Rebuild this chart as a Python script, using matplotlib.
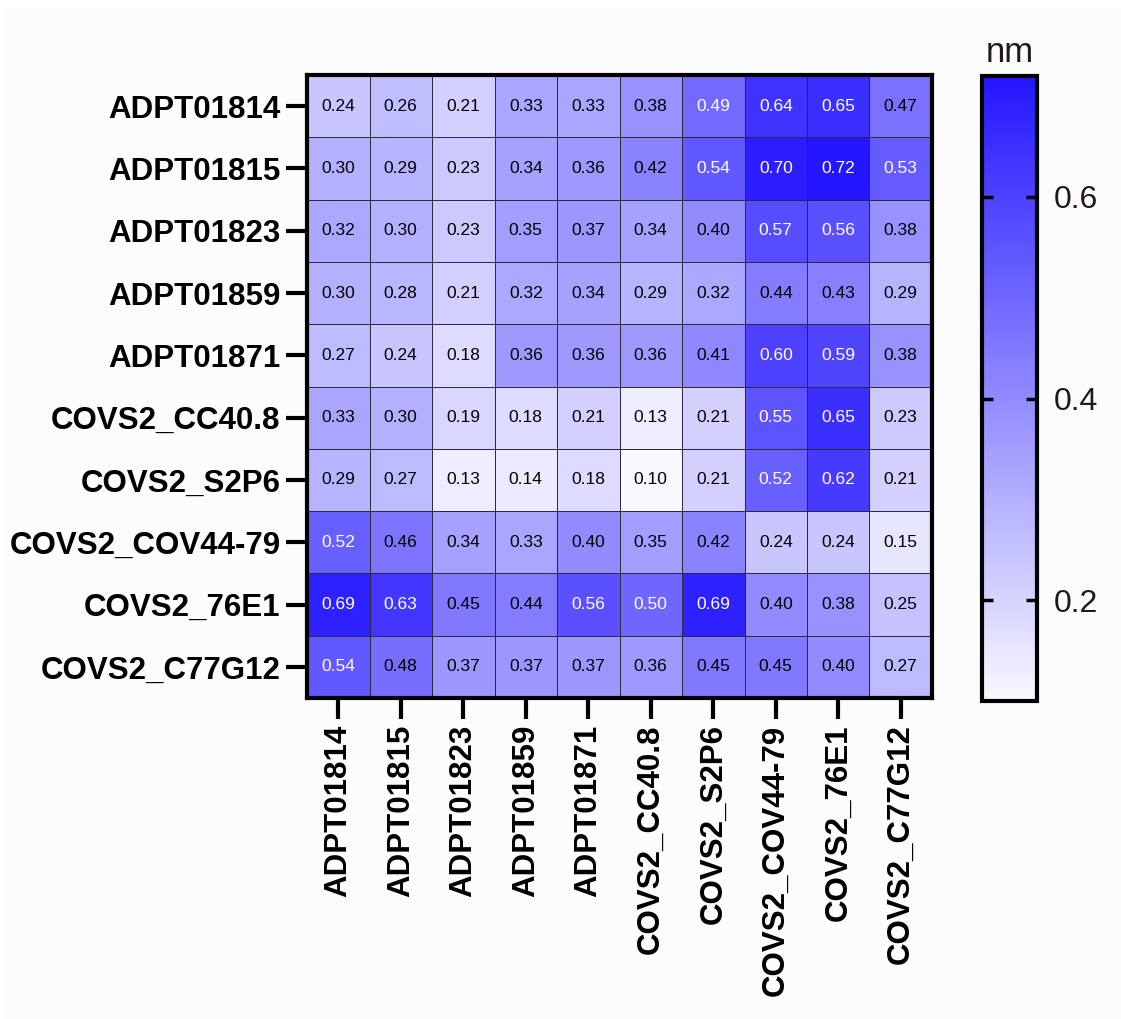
import numpy as np
import matplotlib
matplotlib.use("Agg")
import matplotlib.pyplot as plt
from matplotlib.colors import LinearSegmentedColormap
from matplotlib.patches import Rectangle

rows = ["ADPT01814", "ADPT01815", "ADPT01823", "ADPT01859", "ADPT01871",
        "COVS2_CC40.8", "COVS2_S2P6", "COVS2_COV44-79", "COVS2_76E1", "COVS2_C77G12"]
cols = rows[:]

values = np.array([
    [0.24, 0.26, 0.21, 0.33, 0.33, 0.38, 0.49, 0.64, 0.65, 0.47],
    [0.30, 0.29, 0.23, 0.34, 0.36, 0.42, 0.54, 0.70, 0.72, 0.53],
    [0.32, 0.30, 0.23, 0.35, 0.37, 0.34, 0.40, 0.57, 0.56, 0.38],
    [0.30, 0.28, 0.21, 0.32, 0.34, 0.29, 0.32, 0.44, 0.43, 0.29],
    [0.27, 0.24, 0.18, 0.36, 0.36, 0.36, 0.41, 0.60, 0.59, 0.38],
    [0.33, 0.30, 0.19, 0.18, 0.21, 0.13, 0.21, 0.55, 0.65, 0.23],
    [0.29, 0.27, 0.13, 0.14, 0.18, 0.10, 0.21, 0.52, 0.62, 0.21],
    [0.52, 0.46, 0.34, 0.33, 0.40, 0.35, 0.42, 0.24, 0.24, 0.15],
    [0.69, 0.63, 0.45, 0.44, 0.56, 0.50, 0.69, 0.40, 0.38, 0.25],
    [0.54, 0.48, 0.37, 0.37, 0.37, 0.36, 0.45, 0.45, 0.40, 0.27],
])
cbar_ticks = [0.2, 0.4, 0.6]

plt.rcParams['font.family'] = ['Liberation Sans', 'DejaVu Sans']

W, H = 1121, 1019
fig = plt.figure(figsize=(W / 100, H / 100), dpi=100, facecolor='white')
fig.patches.append(Rectangle((4 / W, 0), 1 - 4 / W, 1 - 8 / H, transform=fig.transFigure,
                             facecolor='#FAFCFE', edgecolor='none', zorder=-10))

cmap = LinearSegmentedColormap.from_list('wb', ['#F8F8FF', '#2416FF'])
vmin, vmax = 0.10, 0.72

ax = fig.add_axes([307 / W, 1 - 698 / H, 625 / W, 623 / H])
mesh = ax.pcolormesh(values, cmap=cmap, vmin=vmin, vmax=vmax,
                     edgecolors='#2a2a3a', linewidth=0.7)
ax.set_xlim(0, len(cols))
ax.set_ylim(len(rows), 0)

for i in range(len(rows)):
    for j in range(len(cols)):
        v = values[i, j]
        ax.text(j + 0.5, i + 0.5, f"{v:.2f}", ha='center', va='center',
                fontsize=12.5, color='white' if v >= 0.485 else 'black')

ax.set_xticks(np.arange(len(cols)) + 0.5)
ax.set_xticklabels(cols, rotation=90, fontsize=22.5, fontweight='bold')
ax.set_yticks(np.arange(len(rows)) + 0.5)
ax.set_yticklabels(rows, fontsize=22.5, fontweight='bold')
ax.tick_params(length=15, width=3, color='black', pad=4)
for s in ax.spines.values():
    s.set_linewidth(3)
    s.set_color('black')

cax = fig.add_axes([982 / W, 1 - 701 / H, 55 / W, 625 / H])
cb = fig.colorbar(mesh, cax=cax, ticks=cbar_ticks)
cb.outline.set_linewidth(3)
cb.ax.tick_params(direction='in', left=True, right=True, length=8, width=2.5,
                  labelsize=23, labelcolor='#231815', pad=12)
cb.ax.set_yticklabels([f"{t:.1f}" for t in cbar_ticks])
cax.set_title('nm', fontsize=25, color='#231815', pad=10)

fig.savefig('out.png', dpi=100, facecolor=fig.get_facecolor())
